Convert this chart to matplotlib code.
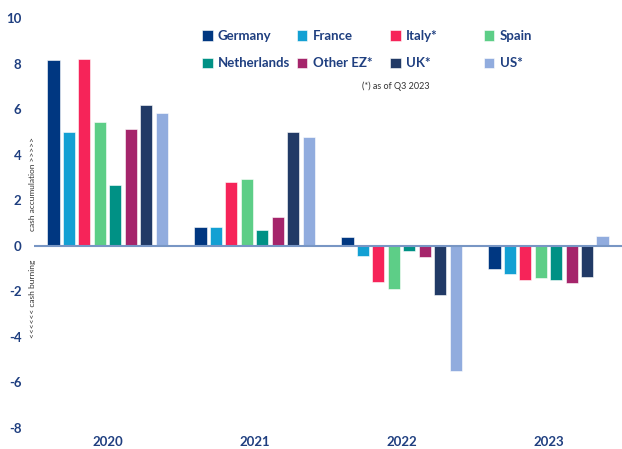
import matplotlib
matplotlib.use("Agg")
import matplotlib.pyplot as plt
import numpy as np

years = ["2020", "2021", "2022", "2023"]
countries = ["Germany", "France", "Italy*", "Spain", "Netherlands", "Other EZ*", "UK*", "US*"]
colors = ["#003781", "#13A0D3", "#F62459", "#5DCE87", "#009185", "#A5256B", "#213A66", "#91ACDE"]

germany = [8.14, 0.80, 0.37, -1.03]
france = [5.00, 0.83, -0.45, -1.25]
italy = [8.19, 2.81, -1.60, -1.49]
spain = [5.43, 2.92, -1.92, -1.41]
netherlands = [2.68, 0.68, -0.22, -1.52]
other_ez = [5.12, 1.24, -0.49, -1.63]
uk = [6.19, 5.00, -2.15, -1.37]
us = [5.82, 4.79, -5.48, 0.44]
series = [germany, france, italy, spain, netherlands, other_ez, uk, us]

plt.rcParams['font.family'] = ['Lato', 'DejaVu Sans']
plt.rcParams['axes.unicode_minus'] = False
txt_col = "#1F3F80"

fig = plt.figure(figsize=(6.22, 4.49), dpi=100)
ax = fig.add_axes([0.0547, 0.047, 0.9453, 0.913])

x = np.arange(len(years))
step = 0.105
width = 0.082
handles = []
for i, (name, vals) in enumerate(zip(countries, series)):
    off = (i - 3.5) * step
    h = ax.bar(x + off, vals, width, color=colors[i], edgecolor="white",
               linewidth=0.4, label=name, zorder=2)
    handles.append(h)

ax.axhline(0, color="#7896C4", linewidth=1.5, zorder=3)
ax.set_xlim(-0.5, 3.5)
ax.set_ylim(-8, 10)
ax.set_yticks(range(-8, 11, 2))
ax.set_xticks(x)
ax.set_xticklabels(years)
for s in ax.spines.values():
    s.set_visible(False)
ax.tick_params(length=0, labelsize=9.5, labelcolor=txt_col)
ax.tick_params(axis='y', pad=9)
ax.tick_params(axis='x', pad=6)
for lab in ax.get_xticklabels() + ax.get_yticklabels():
    lab.set_fontweight("bold")

# four one-column legends so the columns are evenly spaced like the original
col_x = [0.325, 0.477, 0.627, 0.778]
for c in range(4):
    idx = [c, c + 4]
    leg = fig.legend([handles[k] for k in idx], [countries[k] for k in idx],
                     loc="upper left", bbox_to_anchor=(col_x[c], 0.933), frameon=False,
                     fontsize=9.5, handlelength=0.8, handleheight=0.8, handletextpad=0.4,
                     labelspacing=1.15, borderpad=0, borderaxespad=0)
    for t in leg.get_texts():
        t.set_color(txt_col)
        t.set_fontweight("bold")

fig.text(0.582, 0.808, "(*) as of Q3 2023", fontsize=6.5, color="#333333", ha="left", va="center")
fig.text(0.053, 0.59, "cash accumulation >>>>>", rotation=90, fontsize=6,
         color="#333333", ha="center", va="center")
fig.text(0.053, 0.335, "<<<<<< cash burning", rotation=90, fontsize=6,
         color="#333333", ha="center", va="center")

fig.savefig("out.png", dpi=100)
